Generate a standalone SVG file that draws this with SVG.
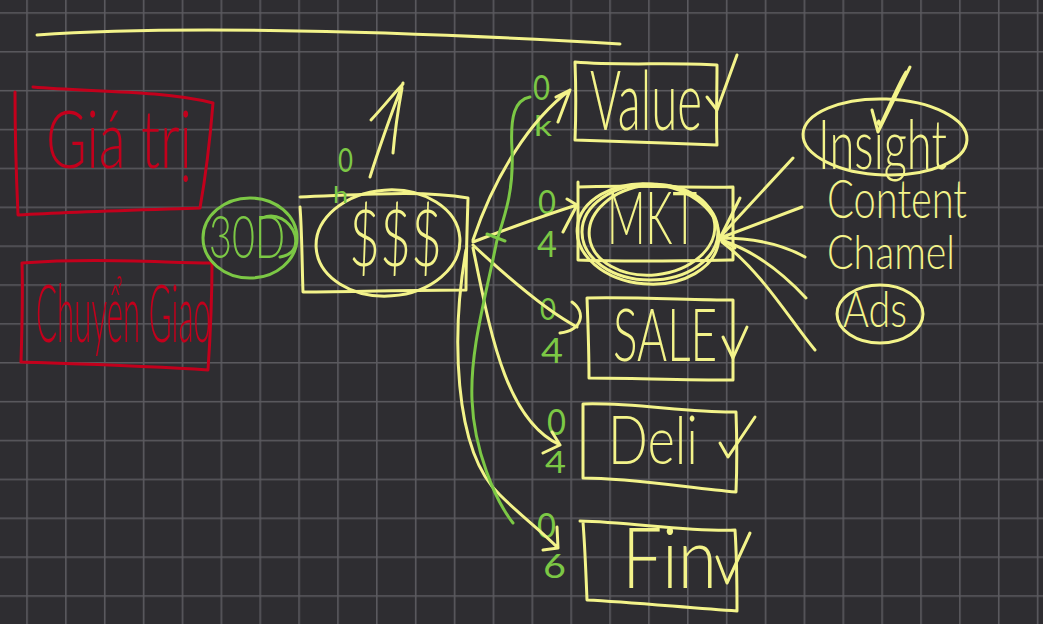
<svg xmlns="http://www.w3.org/2000/svg" width="1043" height="624" viewBox="0 0 1043 624">
<defs>
<pattern id="grid" patternUnits="userSpaceOnUse" x="26.2" y="12.2" width="38.87" height="38.87">
<rect width="38.87" height="38.87" fill="#2e2d31"/>
<path d="M0 0.8H38.87M0.8 0V38.87" stroke="#5b5a5f" stroke-width="1.6" fill="none"/>
</pattern>
<style>
.y{fill:none;stroke:#f3f38a;stroke-width:3;stroke-linecap:round;stroke-linejoin:round}
.g{fill:none;stroke:#7cc845;stroke-width:3;stroke-linecap:round;stroke-linejoin:round}
.r{fill:none;stroke:#c3001c;stroke-width:3;stroke-linecap:round;stroke-linejoin:round}
text{font-family:Lato,"Open Sans","DejaVu Sans",sans-serif;font-weight:300}
.ty{fill:#f3f38a}
.tg{fill:#7cc845;font-weight:400}
.tr{fill:#c3001c}
</style>
</defs>
<rect width="1043" height="624" fill="url(#grid)"/>

<g id="topline"><path class="y" d="M37,35 C150,27 350,28 620,44"/></g>

<g id="node-giatri">
<path class="r" d="M33,87 C90,92 160,90 213,103 C210,140 205,180 200,208 C140,210 70,212 18,215 C16,170 15,130 15,92"/>
<text class="tr" x="46" y="168" font-size="80" textLength="146" lengthAdjust="spacingAndGlyphs">Giá trị</text>
</g>

<g id="node-chuyengiao">
<path class="r" d="M22,263 C90,258 150,262 212,263 C212,300 210,340 208,370 C150,366 80,364 21,362 C22,330 23,295 22,263"/>
<text class="tr" x="36" y="342" font-size="80" textLength="175" lengthAdjust="spacingAndGlyphs">Chuyển Giao</text>
</g>

<g id="node-30d">
<ellipse class="g" cx="250" cy="238" rx="47" ry="40"/>
<path class="g" d="M262,218 C275,212 290,220 295,235 C298,248 292,255 280,257"/>
<text class="tg" x="209" y="258" font-size="60" textLength="76" lengthAdjust="spacingAndGlyphs" style="font-weight:300">30D</text>
</g>

<g id="node-money">
<path class="y" d="M300,197 C360,195 420,190 468,198 C467,230 466,262 466,290 C410,290 350,292 303,292 C302,265 302,232 300,207"/>
<ellipse class="y" cx="388" cy="243" rx="72" ry="53" transform="rotate(-4 388 243)"/>
<text class="ty" x="349" y="266" font-size="78" textLength="93" lengthAdjust="spacingAndGlyphs">$$$</text>
<path class="y" d="M370,177 C380,145 392,112 403,83 M393,153 C395,130 398,110 402,88 M371,120 C385,105 395,92 403,84"/>
<text class="tg" x="338" y="172" font-size="32" textLength="15" lengthAdjust="spacingAndGlyphs">0</text>
<text class="tg" x="333" y="203" font-size="24" textLength="15" lengthAdjust="spacingAndGlyphs">h</text>
</g>

<g id="node-value">
<path class="y" d="M575,62 C620,66 670,62 717,65 C717,95 716,120 717,145 C670,143 620,142 575,140 C576,115 576,88 575,62"/>
<text class="ty" x="590" y="130" font-size="83" textLength="112" lengthAdjust="spacingAndGlyphs">Value</text>
<path class="y" d="M707,97 L717,110 L737,55"/>
</g>

<g id="node-mkt">
<path class="y" d="M578,187 C630,185 690,188 733,187 C733,212 733,238 733,260 C680,261 630,262 578,260 C578,235 578,210 578,182"/>
<ellipse class="y" cx="650" cy="232" rx="68" ry="48"/>
<ellipse class="y" cx="652" cy="230" rx="63" ry="45" transform="rotate(-6 652 230)"/>
<ellipse class="y" cx="648" cy="234" rx="71" ry="50" transform="rotate(5 648 234)"/>
<text class="ty" x="607" y="244" font-size="72" textLength="90" lengthAdjust="spacingAndGlyphs">MKT</text>
</g>

<g id="node-sale">
<path class="y" d="M587,298 C640,297 690,300 733,300 C733,327 733,355 733,380 C680,380 630,378 589,378 C589,350 588,325 587,298"/>
<text class="ty" x="613" y="361" font-size="73" textLength="104" lengthAdjust="spacingAndGlyphs">SALE</text>
<path class="y" d="M723,337 L733,358 L747,327"/>
</g>

<g id="node-deli">
<path class="y" d="M583,404 C630,402 690,413 736,412 C737,440 737,468 736,492 C690,488 630,478 583,478 C583,455 583,430 583,404"/>
<text class="ty" x="608" y="464" font-size="67" textLength="90" lengthAdjust="spacingAndGlyphs">Deli</text>
<path class="y" d="M720,443 L728,457 L755,417"/>
</g>

<g id="node-fin">
<path class="y" d="M580,521 C630,522 690,532 735,530 C737,560 737,588 737,611 C690,608 630,602 587,600 C586,575 585,548 583,522"/>
<text class="ty" x="622" y="588" font-size="84" textLength="95" lengthAdjust="spacingAndGlyphs">Fin</text>
<path class="y" d="M717,557 L727,583 L750,533"/>
</g>

<g id="node-insight">
<ellipse class="y" cx="885" cy="137" rx="82" ry="38" transform="rotate(2 885 137)"/>
<text class="ty" x="818" y="169" font-size="68" textLength="129" lengthAdjust="spacingAndGlyphs">Insight</text>
<path class="y" d="M872,110 L878,132 L910,67 M880,126 C890,105 898,85 906,72"/>
</g>

<g id="node-content">
<text class="ty" x="827" y="218" font-size="53" textLength="140" lengthAdjust="spacingAndGlyphs">Content</text>
</g>

<g id="node-chamel">
<text class="ty" x="827" y="269" font-size="48" textLength="128" lengthAdjust="spacingAndGlyphs">Chamel</text>
</g>

<g id="node-ads">
<ellipse class="y" cx="880" cy="314" rx="43" ry="29"/>
<text class="ty" x="843" y="327" font-size="50" textLength="64" lengthAdjust="spacingAndGlyphs">Ads</text>
</g>

<g id="marks">
<text class="tg" x="533" y="100" font-size="34" textLength="17" lengthAdjust="spacingAndGlyphs">0</text>
<text class="tg" x="534" y="136" font-size="28" textLength="18" lengthAdjust="spacingAndGlyphs">k</text>
<text class="tg" x="538" y="214" font-size="32" textLength="18" lengthAdjust="spacingAndGlyphs">0</text>
<text class="tg" x="537" y="257" font-size="36" textLength="20" lengthAdjust="spacingAndGlyphs">4</text>
<text class="tg" x="540" y="320" font-size="30" textLength="16" lengthAdjust="spacingAndGlyphs">0</text>
<text class="tg" x="541" y="363" font-size="34" textLength="22" lengthAdjust="spacingAndGlyphs">4</text>
<text class="tg" x="547" y="435" font-size="36" textLength="19" lengthAdjust="spacingAndGlyphs">0</text>
<text class="tg" x="545" y="473" font-size="30" textLength="21" lengthAdjust="spacingAndGlyphs">4</text>
<text class="tg" x="537" y="538" font-size="34" textLength="19" lengthAdjust="spacingAndGlyphs">0</text>
<text class="tg" x="543" y="578" font-size="32" textLength="23" lengthAdjust="spacingAndGlyphs">6</text>
</g>

<g id="connectors">
<path class="y" d="M473,240 C495,175 530,120 570,90 M556,97 L570,90 L558,122"/>
<path class="y" d="M473,242 C510,228 545,215 577,205 M563,232 L577,205 L567,199"/>
<path class="y" d="M473,245 C505,275 545,310 577,327 M572,302 C586,312 583,330 560,333"/>
<path class="y" d="M473,248 C490,330 505,420 560,445 M543,453 L560,445 L552,432"/>
<path class="y" d="M466,250 C452,330 452,450 500,495 C520,515 540,530 558,548 M557,527 L558,548 L543,550"/>
<path class="y" d="M793,158 L720,237 M802,207 L720,238 M805,257 C780,243 750,238 720,238 M806,298 C780,270 752,250 721,240 M815,350 C790,320 762,272 722,242"/>
<path class="y" d="M740,198 L720,238 L735,248"/>
<path class="g" d="M530,97 C515,100 510,115 512,150 C514,190 505,215 497,240 C485,300 470,350 472,400 C474,450 495,500 513,523 M487,234 L505,241"/>
</g>
</svg>
